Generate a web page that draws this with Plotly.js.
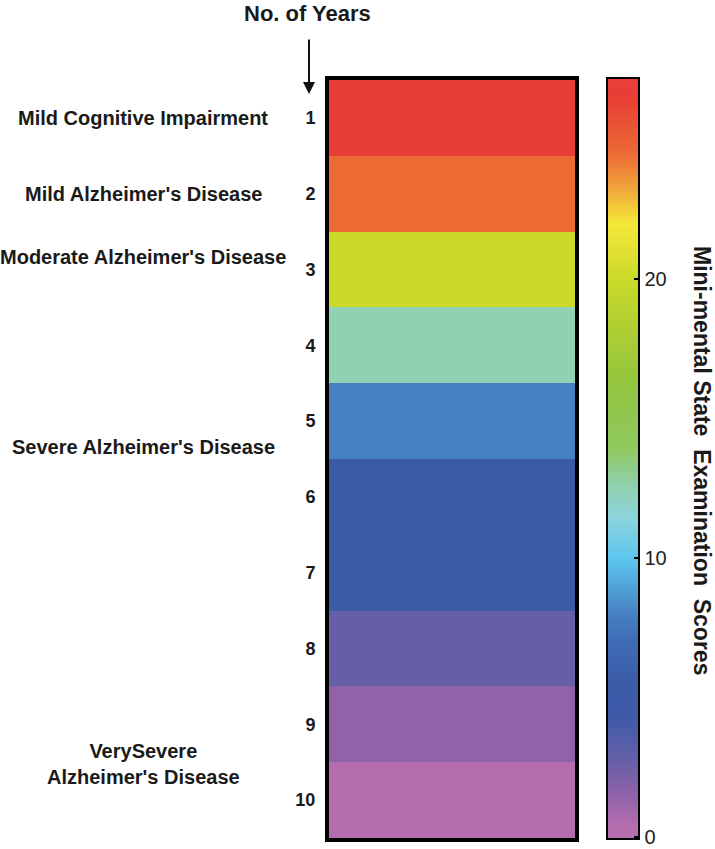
<!DOCTYPE html>
<html>
<head>
<meta charset="utf-8">
<script src="https://cdn.plot.ly/plotly-3.0.1.min.js"></script>
<style>
html,body{margin:0;padding:0;background:#fff;}
#chart{width:715px;height:849px;}
</style>
</head>
<body>
<div id="chart"></div>
<script>
// ---- data ----
const years = [1, 2, 3, 4, 5, 6, 7, 8, 9, 10];
const mmseScores = [26.5, 24.5, 20.0, 12.5, 8.0, 5.5, 5.3, 2.8, 1.5, 0.4];
const stageNames = [
  "Mild Cognitive Impairment",
  "Mild Alzheimer's Disease",
  "Moderate Alzheimer's Disease",
  "Severe Alzheimer's Disease",
  "VerySevere<br>Alzheimer's Disease"
];
const stageYears = [1, 2, 2.83, 5.34, 9.52];
const colorbarTicks = [0, 10, 20];
const scoreMin = -0.08;
const scoreMax = 27.2;
const colorbarTitle = "Mini-mental State\u00a0\u00a0Examination\u00a0\u00a0Scores";
const yearsTitle = "No. of Years";

// colour scale: score -> colour
const scaleScores = [-0.08, 0.4, 1.5, 2.8, 4.5, 5.5, 7, 8, 10, 11.5, 12.5, 14, 16.5, 20, 22, 23.5, 24.5, 26.5, 27.2];
const scaleColors = ['#b86fb0', '#b56daf', '#9062a9', '#655fa8', '#3c5aa8', '#3c5ba7', '#3f6bb5', '#4680c1',
  '#5cc6ee', '#8dd4dc', '#90d1b4', '#8fc85e', '#94c53c', '#cad92a', '#f5e83a', '#f09a3a', '#ec6b35', '#e73f35', '#e8403a'];
const colorscale = scaleScores.map((s, i) => [(s - scoreMin) / (scoreMax - scoreMin), scaleColors[i]]);

const F = 'Arial, "Liberation Sans", Helvetica, sans-serif';

// ---- geometry (pixels) ----
const W = 715, H = 849;
const L = 329, R = 140, T = 80, B = 9;
const pw = W - L - R, ph = H - T - B;
const px = x => (x - L) / pw;          // pixel x -> paper
const py = y => (H - B - y) / ph;      // pixel y -> paper

const trace = {
  type: 'heatmap',
  x: [0],
  y: years,
  z: mmseScores.map(v => [v]),
  zmin: scoreMin,
  zmax: scoreMax,
  colorscale: colorscale,
  hoverinfo: 'skip',
  colorbar: {
    x: px(607), xanchor: 'left', xpad: 0,
    y: 0.5, yanchor: 'middle', len: 1.004, lenmode: 'fraction', ypad: 0,
    thickness: 32, thicknessmode: 'pixels',
    outlinewidth: 2, outlinecolor: '#000',
    tickvals: colorbarTicks,
    ticks: 'inside', ticklen: 6, tickwidth: 2, tickcolor: '#000',
    ticklabelstandoff: 4,
    tickfont: {family: F, size: 20, color: '#222'},
    showticklabels: true
  }
};

const annotations = stageNames.map((t, i) => ({
  text: t, xref: 'paper', yref: 'y', x: px(143), y: stageYears[i],
  xanchor: 'center', yanchor: 'middle', showarrow: false, align: 'center',
  font: {family: F, size: 20, color: '#1a1a1a', weight: 'bold'}
}));
annotations.push({
  text: yearsTitle, xref: 'paper', yref: 'paper', x: px(307), y: py(13),
  xanchor: 'center', yanchor: 'middle', showarrow: false,
  font: {family: F, size: 22, color: '#1a1a1a', weight: 'bold'}
});
annotations.push({
  text: '', xref: 'paper', yref: 'paper', x: px(309), y: py(94),
  showarrow: true, ax: 0, ay: -56, arrowhead: 2, arrowsize: 1.2, arrowwidth: 2, arrowcolor: '#111'
});
annotations.push({
  text: colorbarTitle, xref: 'paper', yref: 'paper', x: px(702), y: py(461),
  xanchor: 'center', yanchor: 'middle', showarrow: false, textangle: 90,
  font: {family: F, size: 23, color: '#1a1a1a', weight: 'bold'}
});

const layout = {
  width: W, height: H,
  margin: {l: L, r: R, t: T, b: B, pad: 0},
  paper_bgcolor: '#fff', plot_bgcolor: '#fff',
  showlegend: false,
  xaxis: {
    showticklabels: false, ticks: '', showgrid: false, zeroline: false,
    showline: true, mirror: true, linewidth: 4, linecolor: '#000', fixedrange: true
  },
  yaxis: {
    range: [10.5, 0.5], tickvals: years, ticktext: years.map(String),
    ticks: 'outside', ticklen: 6, tickcolor: 'rgba(0,0,0,0)',
    tickfont: {family: F, size: 18, color: '#1a1a1a', weight: 'bold'},
    showgrid: false, zeroline: false,
    showline: true, mirror: true, linewidth: 4, linecolor: '#000', fixedrange: true
  },
  annotations: annotations
};

Plotly.newPlot('chart', [trace], layout, {displayModeBar: false, staticPlot: true});
</script>
</body>
</html>
